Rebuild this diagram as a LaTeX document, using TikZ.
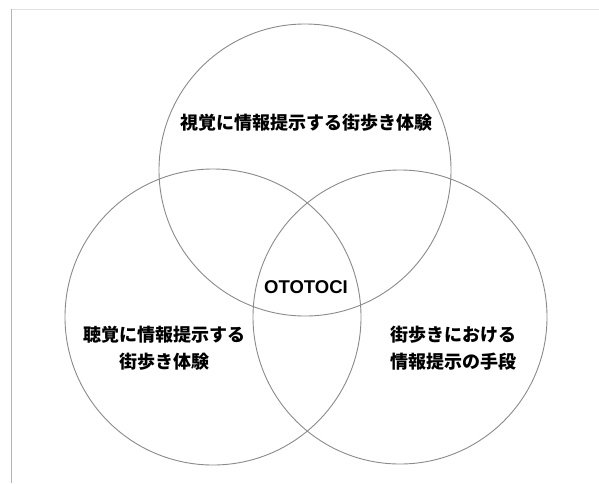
\documentclass[tikz,border=0pt]{standalone}
\usepackage{fontspec}
\newfontfamily\jp{Noto Sans CJK JP}
\newfontfamily\lat{Liberation Sans}
\definecolor{ring}{HTML}{8A8A8A}
\definecolor{frameL}{HTML}{B4B4B4}
\definecolor{frameT}{HTML}{E2E2E2}
\begin{document}
\begin{tikzpicture}[x=1pt,y=-1pt,
  ring/.style={draw=ring,line width=0.9pt},
  lbl/.style={font=\jp\bfseries\fontsize{18}{27}\selectfont,align=center,inner sep=0pt}]
\useasboundingbox (0,0) rectangle (599,483);
\draw[frameT,line width=0.8pt] (11,9) -- (599,9);
\draw[frameL,line width=0.9pt] (11,9) -- (11,483);
\node[ring,circle,minimum size=292pt,inner sep=0pt] (top) at (305,170) {};
\node[ring,circle,minimum size=296pt,inner sep=0pt] (left) at (213,317) {};
\node[ring,circle,minimum size=294pt,inner sep=0pt] (right) at (400,317) {};
\node[lbl] (tt) at (306,123) {視覚に情報提示する街歩き体験};
\node[lbl] (lt) at (164,348) {聴覚に情報提示する\\街歩き体験};
\node[lbl] (rt) at (453,348) {街歩きにおける\\情報提示の手段};
\node[lbl,font=\lat\bfseries\fontsize{18.5}{20}\selectfont] (ct) at (306,287) {OTOTOCI};
\end{tikzpicture}
\end{document}
